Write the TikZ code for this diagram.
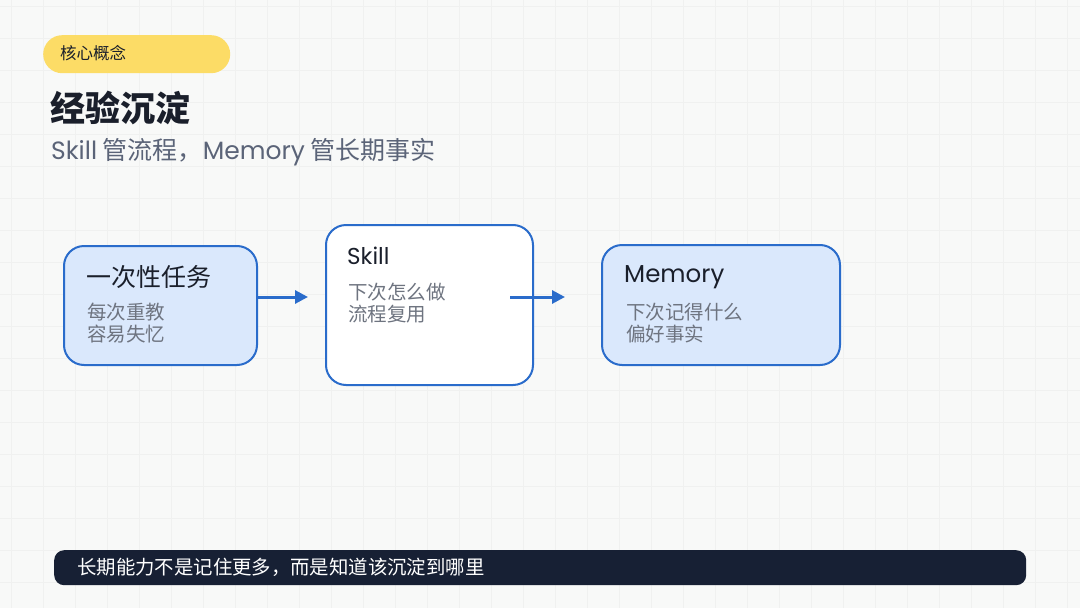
\documentclass[tikz,border=0pt]{standalone}
\usepackage{fontspec}
\setmainfont{Noto Sans CJK SC}
\newfontfamily\cjk{Noto Sans CJK SC}
\newfontfamily\lat{Poppins}
\usetikzlibrary{arrows.meta}
\definecolor{bgc}{HTML}{F8F9F8}
\definecolor{gridc}{HTML}{F0F1F0}
\definecolor{pill}{HTML}{FCDC66}
\definecolor{ink}{HTML}{1A1F2B}
\definecolor{subc}{HTML}{5B6478}
\definecolor{bodyc}{HTML}{6E7480}
\definecolor{boxfill}{HTML}{DAE8FC}
\definecolor{boxline}{HTML}{2A6CCB}
\definecolor{navy}{HTML}{172034}
\tikzset{
  card/.style={draw=boxline, line width=2pt, rounded corners=20pt, anchor=north west, inner sep=0pt},
  ttl/.style={anchor=west, inner sep=0pt, text=ink, font=\fontsize{25}{29}\selectfont},
  bodytxt/.style={anchor=north west, inner sep=0pt, text=bodyc, align=left, font=\fontsize{19.5}{22}\selectfont},
  flow/.style={draw=boxline, line width=3pt, -{Triangle[length=13pt,width=13pt]}}
}
\begin{document}
\begin{tikzpicture}[x=1pt,y=-1pt]
\fill[bgc] (0,0) rectangle (1080,608);
\useasboundingbox (0,0) rectangle (1080,608);
\foreach \gx in {11,43,...,1080} \draw[gridc, line width=0.6pt] (\gx,0) -- (\gx,608);
\foreach \gy in {6,38,...,608} \draw[gridc, line width=0.6pt] (0,\gy) -- (1080,\gy);
% tag pill
\node[fill=pill, rounded corners=19pt, minimum width=187pt, minimum height=38pt, anchor=north west, inner sep=0pt] (pill) at (43,35) {};
\node[anchor=west, inner sep=0pt, text=ink, font=\fontsize{16.5}{18}\selectfont] (tag) at (60,53) {核心概念};
% title
\node[anchor=west, inner sep=0pt, text=ink, font=\fontsize{35}{40}\selectfont\bfseries] (title) at (50,108) {经验沉淀};
\node[anchor=west, inner sep=0pt, text=subc, font=\fontsize{25}{30}\selectfont] (sub) at (51,152) {{\lat Skill} 管流程，{\lat Memory} 管长期事实};
% boxes
\node[card, fill=boxfill, minimum width=193pt, minimum height=119pt] (b1) at (63,245) {};
\node[ttl] (t1) at (86,277) {一次性任务};
\node[bodytxt] (d1) at (87,303) {每次重教\\容易失忆};
\node[card, fill=white, minimum width=207pt, minimum height=160pt] (b2) at (325,224) {};
\node[ttl, font=\lat\fontsize{23}{28}\selectfont] (t2) at (347,256) {Skill};
\node[bodytxt] (d2) at (348,283) {下次怎么做\\流程复用};
\node[card, fill=boxfill, minimum width=238pt, minimum height=120pt] (b3) at (601,244) {};
\node[ttl, font=\lat\fontsize{24.5}{28}\selectfont] (t3) at (624,277) {Memory};
\node[bodytxt] (d3) at (626,303) {下次记得什么\\偏好事实};
% arrows
\coordinate (a1e) at (308,297);
\coordinate (a2s) at (510,297);
\coordinate (a2e) at (565,297);
\draw[flow] (b1.east |- a1e) -- (a1e);
\draw[flow] (a2s) -- (a2e);
% bottom bar
\node[fill=navy, rounded corners=10pt, minimum width=972pt, minimum height=35pt, anchor=north west, inner sep=0pt] (bar) at (54,550) {};
\node[anchor=west, inner sep=0pt, text=white, font=\fontsize{19.4}{22}\selectfont] (bartxt) at (77,567.5) {长期能力不是记住更多，而是知道该沉淀到哪里};
\end{tikzpicture}
\end{document}
